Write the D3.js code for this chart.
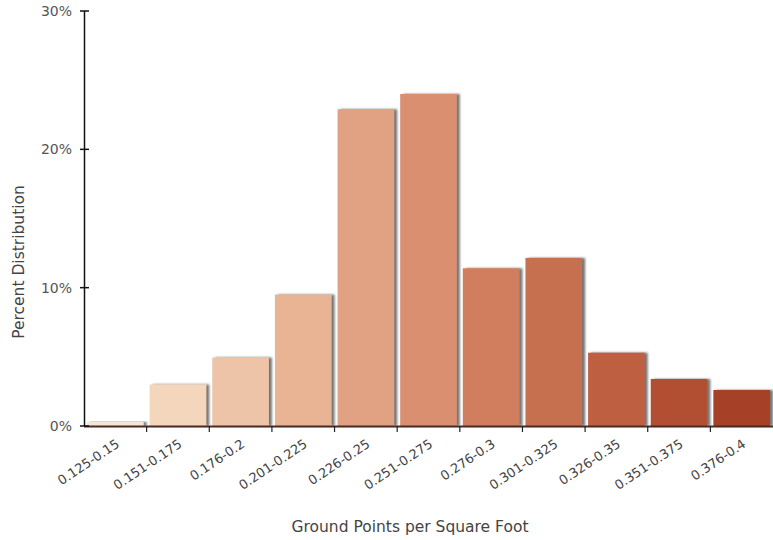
<!DOCTYPE html>
<html><head><meta charset="utf-8">
<script src="https://cdn.jsdelivr.net/npm/d3@7"></script>
<style>body{margin:0;background:#fff}svg{display:block;font-family:"DejaVu Sans",sans-serif}</style>
</head><body><svg id="c" width="773" height="540"></svg>
<script>
const categories = ["0.125-0.15","0.151-0.175","0.176-0.2","0.201-0.225","0.226-0.25","0.251-0.275","0.276-0.3","0.301-0.325","0.326-0.35","0.351-0.375","0.376-0.4"];
const values = [0.3, 3.0, 4.95, 9.5, 22.9, 24.0, 11.4, 12.15, 5.3, 3.4, 2.6];
const colors = ["#f7e6d4","#f4d6bd","#edc4a7","#e8b493","#e0a282","#d98f70","#d07e5d","#c76f50","#bf5e42","#b24f33","#a63f26"];
const yTicks = [0, 10, 20, 30];

const svg = d3.select("#c");
const m = {l:84, r:0, t:11, b:114};
const W = 773, H = 540;
const x = d3.scaleBand().domain(categories).range([m.l, W - m.r]);
const y = d3.scaleLinear().domain([0, 30]).range([H - m.b, m.t]);

const defs = svg.append("defs");
const f = defs.append("filter").attr("id","sh").attr("x","-10%").attr("y","-10%").attr("width","130%").attr("height","120%");
f.append("feDropShadow").attr("dx",3).attr("dy",0).attr("stdDeviation",1.2).attr("flood-color","#666").attr("flood-opacity",0.9);

svg.append("g").selectAll("rect").data(values).join("rect")
  .attr("x",(d,i)=>x(categories[i])+3)
  .attr("width",x.bandwidth()-6)
  .attr("y",d=>y(d))
  .attr("height",d=>y(0)-y(d))
  .attr("fill",(d,i)=>colors[i])
  .attr("filter","url(#sh)");

// x axis
const gx = svg.append("g");
gx.append("line").attr("x1",m.l).attr("x2",W).attr("y1",y(0)+0.5).attr("y2",y(0)+0.5)
  .attr("stroke","#4a2a22").attr("stroke-width",2);
gx.selectAll("line.t").data(categories.slice(1)).join("line").attr("class","t")
  .attr("x1",d=>x(d)).attr("x2",d=>x(d)).attr("y1",y(0)).attr("y2",y(0)+6)
  .attr("stroke","#222").attr("stroke-width",1.2);
gx.selectAll("text").data(categories).join("text")
  .attr("transform",d=>`translate(${x(d)+x.bandwidth()/2+5},${y(0)+20}) rotate(-34)`)
  .attr("text-anchor","end").attr("font-size",13).attr("fill","#444").text(d=>d);

// y axis
const gy = svg.append("g");
gy.append("line").attr("x1",m.l+0.5).attr("x2",m.l+0.5).attr("y1",y(30)).attr("y2",y(0))
  .attr("stroke","#111").attr("stroke-width",1.5);
gy.selectAll("line.t").data(yTicks).join("line").attr("class","t")
  .attr("x1",m.l-4).attr("x2",m.l+5).attr("y1",d=>y(d)).attr("y2",d=>y(d))
  .attr("stroke","#111").attr("stroke-width",1.5);
gy.selectAll("text").data(yTicks).join("text")
  .attr("x",m.l-12).attr("y",d=>y(d)).attr("dy","0.35em")
  .attr("text-anchor","end").attr("font-size",14).attr("fill","#555").text(d=>d+"%");

svg.append("text").attr("x",410).attr("y",532).attr("text-anchor","middle")
  .attr("font-size",15.5).attr("fill","#444").text("Ground Points per Square Foot");
svg.append("text").attr("transform","translate(24,262) rotate(-90)").attr("text-anchor","middle")
  .attr("font-size",15.5).attr("fill","#444").text("Percent Distribution");
</script></body></html>
